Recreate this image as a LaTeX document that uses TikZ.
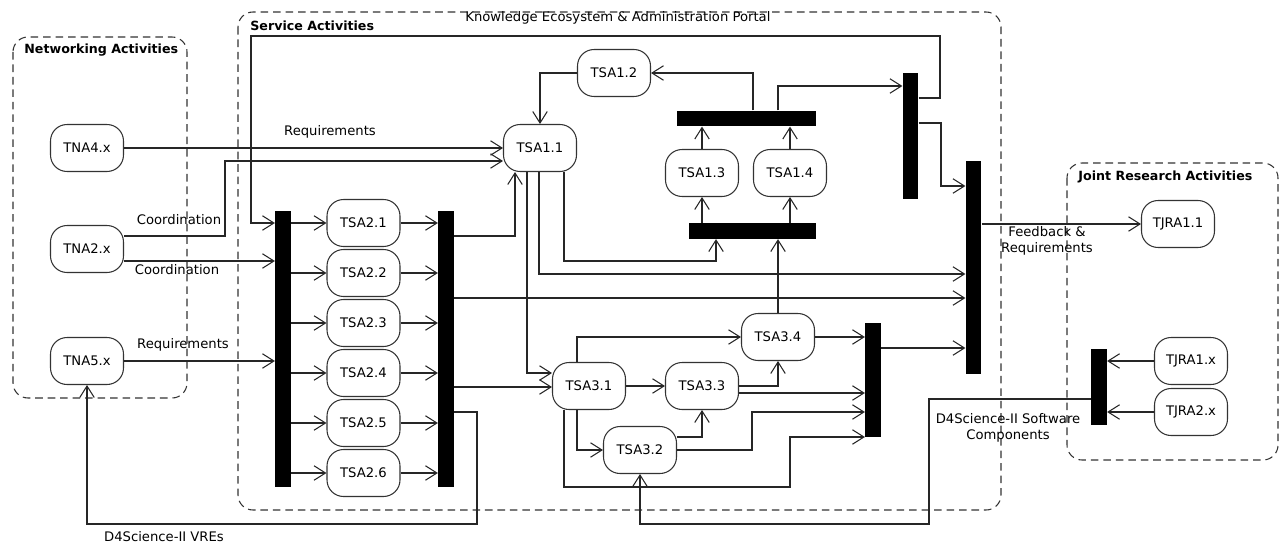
\documentclass[tikz,border=0pt]{standalone}
\usepackage{fontspec}
\setmainfont{DejaVu Sans}
\usetikzlibrary{arrows.meta}
\tikzset{
  task/.style={rectangle,rounded corners=0.33cm,draw=black!80,line width=.6pt,minimum width=1.46cm,minimum height=0.94cm,inner sep=0pt,font=\fontsize{7.5}{9}\selectfont},
  hbar/.style={rectangle,fill=black,inner sep=0pt,minimum width=#1,minimum height=0.31cm},
  vbar/.style={rectangle,fill=black,inner sep=0pt,minimum height=#1,minimum width=0.31cm},
  arr/.style={-{Straight Barb[length=2.3mm,width=2.9mm]},line width=.6pt,draw=black!85},
  grp/.style={draw=black!80,line width=.6pt,dash pattern=on 4.3pt off 2.8pt,rounded corners=0.3cm},
  grptitle/.style={anchor=west,font=\fontsize{7.2}{9}\selectfont\bfseries,inner sep=0pt},
  lbl/.style={font=\fontsize{7.5}{9}\selectfont,inner sep=0pt,align=center},
}
\begin{document}
\begin{tikzpicture}[x=0.02cm,y=-0.02cm]
  \useasboundingbox (0,0) rectangle (1281,544);

  % ---------------- groups ----------------
  \draw[grp] (13,37) rectangle (187,398);
  \draw[grp] (238,12) rectangle (1001,510);
  \draw[grp] (1067,163) rectangle (1278,460);
  \node[grptitle] (tnet) at (24,50) {Networking Activities};
  \node[grptitle] (tsrv) at (250,26) {Service Activities};
  \node[grptitle] (tjra) at (1078,177) {Joint Research Activities};
  \node[lbl,anchor=west] (portal) at (465,18) {Knowledge Ecosystem \& Administration Portal};

  % ---------------- tasks ----------------
  \node[task] (tna4) at (87,148) {TNA4.x};
  \node[task] (tna2) at (87,249) {TNA2.x};
  \node[task] (tna5) at (87,361) {TNA5.x};
  \foreach \i in {1,...,6}
    \node[task] (tsa2\i) at (363.5,{223+50*(\i-1)}) {TSA2.\i};
  \node[task] (tsa11) at (540,148) {TSA1.1};
  \node[task] (tsa12) at (614,73) {TSA1.2};
  \node[task] (tsa13) at (702,173) {TSA1.3};
  \node[task] (tsa14) at (790,173) {TSA1.4};
  \node[task] (tsa31) at (589,386) {TSA3.1};
  \node[task] (tsa32) at (640,450) {TSA3.2};
  \node[task] (tsa33) at (702,386) {TSA3.3};
  \node[task] (tsa34) at (778,337) {TSA3.4};
  \node[task] (tjra11) at (1178,224) {TJRA1.1};
  \node[task] (tjra1x) at (1191,361) {TJRA1.x};
  \node[task] (tjra2x) at (1191,412) {TJRA2.x};

  % ---------------- fork / join bars ----------------
  \node[vbar=5.52cm] (bA) at (283,349) {};
  \node[vbar=5.52cm] (bB) at (446,349) {};
  \node[hbar=2.78cm] (bC) at (746.5,118.5) {};
  \node[hbar=2.54cm] (bF) at (752.5,231) {};
  \node[vbar=2.52cm] (bD) at (910.5,136) {};
  \node[vbar=4.26cm] (bE) at (973.5,267.5) {};
  \node[vbar=2.28cm] (bG) at (873,380) {};
  \node[vbar=1.52cm] (bH) at (1099,387) {};

  % ---------------- networking inputs ----------------
  \draw[arr] (tna4.east) -- (tsa11.west);
  \draw[arr] (tna2.east |- 0,236) -| (225,161) -- (tsa11.west |- 0,161);
  \draw[arr] (tna2.east |- 0,261) -- (bA.west |- 0,261);
  \draw[arr] (tna5.east) -- (bA.west |- tna5.east);
  \node[lbl] (lreq1) at (330,132) {Requirements};
  \node[lbl] (lcoo1) at (179,220) {Coordination};
  \node[lbl] (lcoo2) at (177,270) {Coordination};
  \node[lbl] (lreq2) at (183,345) {Requirements};

  % ---------------- TSA2 block ----------------
  \draw[arr] (bD.east |- 0,98) -- (940,98) |- (251,36) |- (bA.west |- 0,223);
  \foreach \i in {1,...,6}{
    \draw[arr] (bA.east |- tsa2\i) -- (tsa2\i.west);
    \draw[arr] (tsa2\i.east) -- (bB.west |- tsa2\i);
  }
  \draw[arr] (bB.east |- 0,236) -| (tsa11.south -| 515,0);
  \draw[arr] (bB.east |- 0,298) -- (bE.west |- 0,298);
  \draw[arr] (bB.east |- 0,387) -- (tsa31.west |- 0,387);
  \draw[arr] (bB.east |- 0,412) -| (477,524) -| (tna5.south);
  \node[lbl] (lvre) at (164,537) {D4Science-II VREs};

  % ---------------- TSA1 block ----------------
  \draw[arr] (tsa12.west) -| (tsa11.north);
  \draw[arr] (bC.north -| 753,0) |- (tsa12.east);
  \draw[arr] (bC.north -| 778,0) |- (bD.west |- 0,86);
  \draw[arr] (tsa13.north) -- (bC.south -| tsa13.north);
  \draw[arr] (tsa14.north) -- (bC.south -| tsa14.north);
  \draw[arr] (bF.north -| tsa13.south) -- (tsa13.south);
  \draw[arr] (bF.north -| tsa14.south) -- (tsa14.south);
  \draw[arr] (tsa11.south -| 564,0) |- (716,261) -- (bF.south -| 716,0);
  \draw[arr] (tsa11.south -| 539,0) |- (bE.west |- 0,274);
  \draw[arr] (tsa11.south -| 527,0) |- (tsa31.west |- 0,373);
  \draw[arr] (tsa34.north) -- (bF.south -| tsa34.north);
  \draw[arr] (bD.east |- 0,123) -| (941,186) -- (bE.west |- 0,186);
  \draw[arr] (bE.east |- tjra11) -- (tjra11.west);
  \node[lbl] (lfb) at (1047,241) {Feedback \&\\Requirements};

  % ---------------- TSA3 block ----------------
  \draw[arr] (tsa31.north -| 577,0) |- (tsa34.west);
  \draw[arr] (tsa31.east) -- (tsa33.west);
  \draw[arr] (tsa31.south -| 577,0) |- (tsa32.west);
  \draw[arr] (tsa31.south -| 564,0) |- (790,487) |- (bG.west |- 0,437);
  \draw[arr] (tsa32.east |- 0,437) -| (tsa33.south);
  \draw[arr] (tsa32.east) -| (752,412) -- (bG.west |- 0,412);
  \draw[arr] (tsa33.east) -| (tsa34.south);
  \draw[arr] (tsa33.east |- 0,393) -- (bG.west |- 0,393);
  \draw[arr] (tsa34.east) -- (bG.west |- tsa34.east);
  \draw[arr] (bG.east |- 0,348) -- (bE.west |- 0,348);

  % ---------------- JRA inputs ----------------
  \draw[arr] (tjra1x.west) -- (bH.east |- tjra1x.west);
  \draw[arr] (tjra2x.west) -- (bH.east |- tjra2x.west);
  \draw[arr] (bH.west |- 0,399) -| (929,524) -| (tsa32.south);
  \node[lbl] (lsw) at (1008,428) {D4Science-II Software\\Components};
\end{tikzpicture}
\end{document}
